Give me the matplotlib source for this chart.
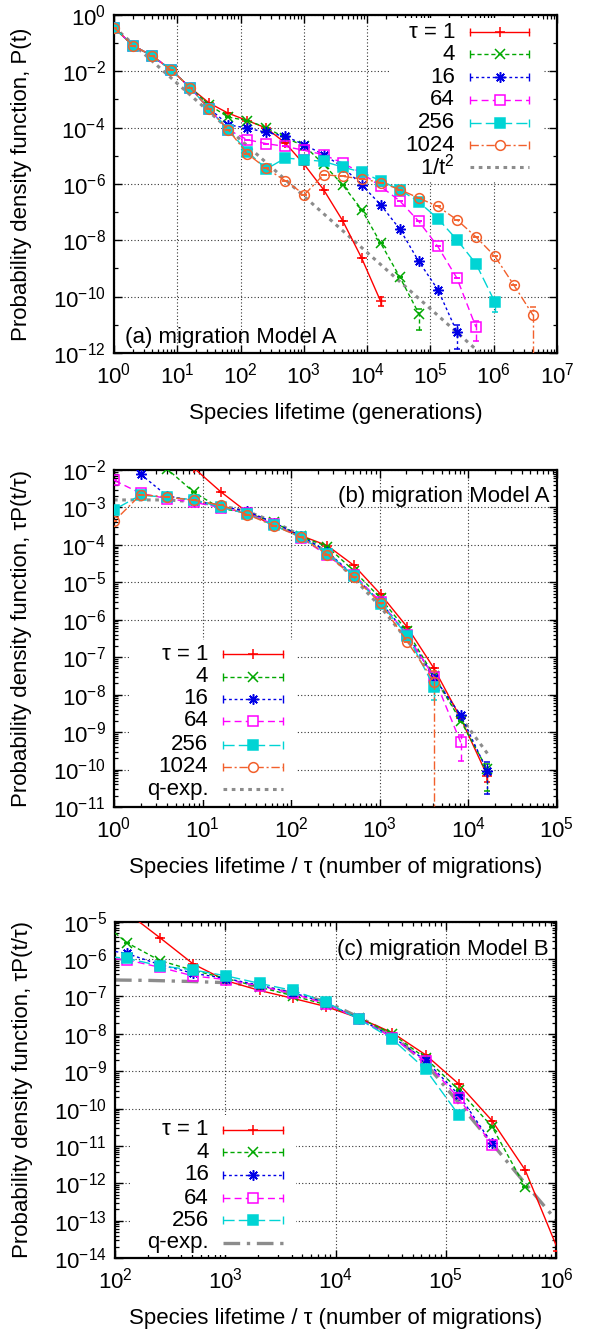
import numpy as np
import matplotlib
matplotlib.use('Agg')
import matplotlib.pyplot as plt
from matplotlib.ticker import FixedLocator, FuncFormatter, NullFormatter
from matplotlib.patches import Rectangle

plt.rcParams['font.family'] = ['Liberation Sans', 'DejaVu Sans']
plt.rcParams['mathtext.fontset'] = 'custom'
plt.rcParams['mathtext.rm'] = 'Liberation Sans'
plt.rcParams['mathtext.it'] = 'Liberation Sans:italic'
plt.rcParams['font.size'] = 16

# ---------------- data (log10 values) ----------------
taus_a = [1, 4, 16, 64, 256, 1024]
labels_a = ['\u03c4 = 1', '4', '16', '64', '256', '1024']

# panel (a): lifetimes t = 2^k, k = 0..
logp_a_red = [-0.45, -1.09, -1.45, -1.95, -2.58, -3.13, -3.49, -3.75, -4.02, -4.55,
              -5.32, -6.2, -7.3, -8.63, -10.17]
logp_a_green = [-0.45, -1.09, -1.45, -1.95, -2.58, -3.2, -3.63, -3.75, -4.0, -4.37,
                -4.65, -5.3, -6.03, -6.91, -8.1, -9.3, -10.6]
logp_a_blue = [-0.45, -1.09, -1.45, -1.95, -2.58, -3.32, -3.9, -4.02, -4.17, -4.31,
               -4.61, -4.96, -5.39, -6.03, -6.74, -7.6, -8.75, -9.75, -11.25]
logp_a_magenta = [-0.45, -1.09, -1.45, -1.95, -2.58, -3.35, -4.08, -4.43, -4.57, -4.67,
                  -4.81, -4.96, -5.26, -5.61, -6.09, -6.6, -7.33, -8.22, -9.34, -11.08]
logp_a_cyan = [-0.45, -1.09, -1.45, -1.95, -2.58, -3.35, -4.08, -4.85, -5.47, -5.08,
               -5.14, -5.2, -5.4, -5.58, -5.89, -6.2, -6.64, -7.23, -7.98, -8.83, -10.2]
logp_a_orange = [-0.45, -1.09, -1.45, -1.95, -2.58, -3.35, -4.08, -4.93, -5.45, -5.89,
                 -6.38, -5.67, -5.73, -5.82, -5.95, -6.2, -6.5, -6.8, -7.27, -7.88,
                 -8.57, -9.6, -10.66]
# error bar ends (log10) on the last point of each series
last_err_lo = [-10.33, -11.17, -11.85, -11.58, -10.55, -16.0]
last_err_hi = [-10.03, -10.45, -11.0, -10.88, -10.1, -10.37]

# 1/t^2 guide line end points
guide_t = [1.0, 1.0e6]
guide_p = [0.37, 3.7e-13]

# panel (b) q-exponential curve
qexp_b_x = [1, 2, 4, 8, 16, 32, 64, 128, 256, 512, 1024, 2048, 4096, 8192, 16384]
qexp_b_logy = [-2.8, -2.8, -2.8, -2.85, -2.95, -3.11, -3.38, -3.75, -4.2, -4.9,
               -5.66, -6.55, -7.53, -8.6, -9.57]

# panel (c): migration Model B, x = t / tau
labels_c = ['\u03c4 = 1', '4', '16', '64', '256']
x_c_red = [128, 256, 512, 1024, 2048, 4096, 8192, 16384, 32768, 65536, 131072,
           262144, 524288, 1048576]
logy_c_red = [-4.75, -5.43, -6.13, -6.58, -6.84, -7.05, -7.27, -7.58, -7.97, -8.56,
              -9.34, -10.32, -11.64, -13.8]
x_c_green = [64, 128, 256, 512, 1024, 2048, 4096, 8192, 16384, 32768, 65536, 131072,
             262144, 524288]
logy_c_green = [-4.83, -5.56, -6.04, -6.3, -6.52, -6.75, -6.98, -7.22, -7.58, -8.0,
                -8.65, -9.5, -10.48, -12.09]
x_c_blue = [64, 128, 256, 512, 1024, 2048, 4096, 8192, 16384, 32768, 65536, 131072,
            262144]
logy_c_blue = [-5.7, -5.85, -6.15, -6.38, -6.52, -6.7, -6.9, -7.17, -7.6, -8.08,
               -8.71, -9.63, -10.93]
x_c_magenta = [64, 128, 256, 512, 1024, 2048, 4096, 8192, 16384, 32768, 65536, 131072,
               262144]
logy_c_magenta = [-5.95, -6.02, -6.22, -6.45, -6.55, -6.72, -6.92, -7.2, -7.6, -8.1,
                  -8.74, -9.72, -10.97]
x_c_cyan = [64, 128, 256, 512, 1024, 2048, 4096, 8192, 16384, 32768, 65536, 131072]
logy_c_cyan = [-5.9, -5.98, -6.18, -6.29, -6.45, -6.65, -6.84, -7.15, -7.61, -8.14,
               -8.95, -10.17]
qexp_c_x = [100, 200, 500, 1000, 2000, 4096, 8192, 16384, 32768, 65536, 131072,
            262144, 524288, 1e6]
qexp_c_logy = [-6.56, -6.57, -6.6, -6.63, -6.72, -6.91, -7.14, -7.56, -8.03, -8.79,
               -9.85, -10.93, -12.0, -12.98]

# ---------------- styles ----------------
colors = ['#ff0000', '#00a800', '#0000e6', '#ff00ff', '#00d4d4', '#f2602c']
markers = ['+', 'x', (8, 2, 0), 's', 's', 'o']
filled = [True, True, True, False, True, False]
dashes = ['-', (0, (3, 2)), (0, (2, 2)), (0, (5, 3)), (0, (8, 3)), (0, (6, 2, 1.5, 2))]
msizes = [7.5, 6.5, 7.5, 6.5, 6.5, 7]
grey = '#8c8c8c'

fig = plt.figure(figsize=(5.9, 13.31), dpi=100)
ax_a = fig.add_axes([0.1932, 0.7348, 0.7508, 0.2540])
ax_b = fig.add_axes([0.1932, 0.3937, 0.7508, 0.2532])
ax_c = fig.add_axes([0.1949, 0.0548, 0.7475, 0.2527])


def series(ax, x, logy, i, err=None):
    x = np.asarray(x, float)
    y = 10.0 ** np.asarray(logy, float)
    lo = np.zeros_like(y)
    hi = np.zeros_like(y)
    if err is not None:
        lo[-1] = y[-1] - 10.0 ** err[0]
        hi[-1] = 10.0 ** err[1] - y[-1]
    mfc = colors[i] if filled[i] else 'none'
    eb = ax.errorbar(x, y, yerr=[lo, hi], color=colors[i], ls=dashes[i], lw=1.0,
                     marker=markers[i], ms=msizes[i], mfc=mfc, mec=colors[i], mew=1.1,
                     capsize=2.0, elinewidth=1.0, capthick=1.0, zorder=3 + i * 0.1)
    for lc in eb.lines[2]:
        lc.set_linestyle(dashes[i])


def key(ax, entries, xt, x0, x1, ys, box):
    ax.add_patch(Rectangle((box[0], box[1]), box[2] - box[0], box[3] - box[1],
                           transform=ax.transAxes, fc='white', ec='none', zorder=2))
    xm = 0.5 * (x0 + x1)
    for (lab, i, style), yy in zip(entries, ys):
        ax.text(xt, yy, lab, transform=ax.transAxes, ha='right', va='center',
                fontsize=16, zorder=6)
        if style == 'data':
            ax.plot([x0, x1], [yy, yy], transform=ax.transAxes, color=colors[i],
                    ls=dashes[i], lw=1.0, zorder=6, clip_on=False)
            ax.plot([x0, x1], [yy, yy], transform=ax.transAxes, ls='none',
                    marker='|', ms=6, mew=1.0, color=colors[i], zorder=6)
            ax.plot([xm], [yy], transform=ax.transAxes, ls='none', marker=markers[i],
                    ms=msizes[i], mec=colors[i], mew=1.1,
                    mfc=colors[i] if filled[i] else 'white', zorder=7)
        elif style == 'dot':
            ax.plot([x0, x1], [yy, yy], transform=ax.transAxes, color=grey,
                    ls=(0, (1.2, 1.5)), lw=2.2, zorder=6)
        else:
            ax.plot([x0, x1], [yy, yy], transform=ax.transAxes, color=grey,
                    ls=(0, (5, 2, 1, 2)), lw=2.4, zorder=6)


def decade_fmt(v, p):
    return r'$10^{%d}$' % int(round(np.log10(v)))


def style_axes(ax, xlim, ylim, ymajor, yminor):
    ax.set_xscale('log')
    ax.set_yscale('log')
    ax.set_xlim(*xlim)
    ax.set_ylim(*ylim)
    lx = np.arange(round(np.log10(xlim[0])), round(np.log10(xlim[1])) + 1)
    ax.xaxis.set_major_locator(FixedLocator(10.0 ** lx))
    ax.xaxis.set_minor_locator(FixedLocator([m * 10.0 ** d for d in lx[:-1]
                                             for m in range(2, 10)]))
    ax.yaxis.set_major_locator(FixedLocator(ymajor))
    ax.yaxis.set_minor_locator(FixedLocator(yminor))
    ax.xaxis.set_major_formatter(FuncFormatter(decade_fmt))
    ax.yaxis.set_major_formatter(FuncFormatter(decade_fmt))
    ax.xaxis.set_minor_formatter(NullFormatter())
    ax.yaxis.set_minor_formatter(NullFormatter())
    ax.tick_params(which='both', direction='in', top=True, right=True, labelsize=16)
    ax.tick_params(which='major', length=6, width=1.0)
    ax.tick_params(which='minor', length=3, width=0.9)
    ax.tick_params(axis='x', pad=7)
    ax.tick_params(axis='y', pad=6)
    for s in ax.spines.values():
        s.set_linewidth(1.6)
    ax.set_axisbelow(True)
    ax.grid(True, which='major', ls=(0, (1, 2)), lw=0.8, color='#333333')


# ---------------- panel (a) ----------------
series_a = [logp_a_red, logp_a_green, logp_a_blue, logp_a_magenta, logp_a_cyan, logp_a_orange]
for i, lp in enumerate(series_a):
    t = 2.0 ** np.arange(len(lp))
    series(ax_a, t, lp, i, (last_err_lo[i], last_err_hi[i]))
ax_a.plot(guide_t, guide_p, color=grey, ls=(0, (1.2, 1.5)), lw=2.2, zorder=2.5)

style_axes(ax_a, (1, 1e7), (1e-12, 1),
           10.0 ** np.arange(0, -13, -2), 10.0 ** np.arange(-1, -12, -2))
ax_a.set_xlabel('Species lifetime (generations)')
ax_a.set_ylabel('Probability density function, P(t)')
ax_a.text(0.025, 0.047, '(a) migration Model A', transform=ax_a.transAxes,
          ha='left', va='center', fontsize=16, zorder=6)
key(ax_a, [(l, i, 'data') for i, l in enumerate(labels_a)] + [('1/t$^2$', 6, 'dot')],
    0.77, 0.804, 0.937, [0.949, 0.884, 0.816, 0.749, 0.681, 0.615, 0.551],
    (0.62, 0.51, 0.968, 0.99))

# ---------------- panel (b): same data rescaled, x = t/tau, y = tau P ----------------
for i, lp in enumerate(series_a):
    tau = taus_a[i]
    t = 2.0 ** np.arange(len(lp))
    series(ax_b, t / tau, np.asarray(lp) + np.log10(tau), i,
           (last_err_lo[i] + np.log10(tau), last_err_hi[i] + np.log10(tau)))
ax_b.plot(qexp_b_x, 10.0 ** np.asarray(qexp_b_logy), color=grey, ls=(0, (1.2, 1.5)),
          lw=2.2, zorder=2.5)
style_axes(ax_b, (1, 1e5), (1e-11, 1e-2), 10.0 ** np.arange(-2, -12, -1),
           [m * 10.0 ** d for d in range(-11, -2) for m in range(2, 10)])
ax_b.set_xlabel('Species lifetime / \u03c4 (number of migrations)')
ax_b.set_ylabel('Probability density function, \u03c4P(t/\u03c4)')
ax_b.text(0.984, 0.92, '(b) migration Model A', transform=ax_b.transAxes,
          ha='right', va='center', fontsize=16, zorder=6)
key(ax_b, [(l, i, 'data') for i, l in enumerate(labels_a)] + [('q-exp.', 6, 'dot')],
    0.213, 0.245, 0.381, [0.453, 0.387, 0.321, 0.256, 0.184, 0.120, 0.053],
    (0.036, 0.02, 0.41, 0.495))

# ---------------- panel (c) ----------------
series_c = [(x_c_red, logy_c_red), (x_c_green, logy_c_green), (x_c_blue, logy_c_blue),
            (x_c_magenta, logy_c_magenta), (x_c_cyan, logy_c_cyan)]
for i, (xx, ly) in enumerate(series_c):
    series(ax_c, xx, ly, i)
ax_c.plot(qexp_c_x, 10.0 ** np.asarray(qexp_c_logy), color=grey, ls=(0, (5, 2, 1, 2)),
          lw=2.4, zorder=2.5)
style_axes(ax_c, (1e2, 1e6), (1e-14, 1e-5), 10.0 ** np.arange(-5, -15, -1),
           [m * 10.0 ** d for d in range(-14, -5) for m in range(2, 10)])
ax_c.set_xlabel('Species lifetime / \u03c4 (number of migrations)')
ax_c.set_ylabel('Probability density function, \u03c4P(t/\u03c4)')
ax_c.text(0.984, 0.917, '(c) migration Model B', transform=ax_c.transAxes,
          ha='right', va='center', fontsize=16, zorder=6)
key(ax_c, [(l, i, 'data') for i, l in enumerate(labels_c)] + [('q-exp.', 6, 'dashdot')],
    0.213, 0.245, 0.381, [0.381, 0.314, 0.247, 0.178, 0.113, 0.045],
    (0.036, 0.01, 0.41, 0.425))

for ax in (ax_a, ax_b, ax_c):
    ax.xaxis.set_label_coords(0.5, -0.148)
    ax.xaxis.label.set_va('top')
    ax.yaxis.set_label_coords(-0.185, 0.5)

fig.savefig('out.png', dpi=100)
